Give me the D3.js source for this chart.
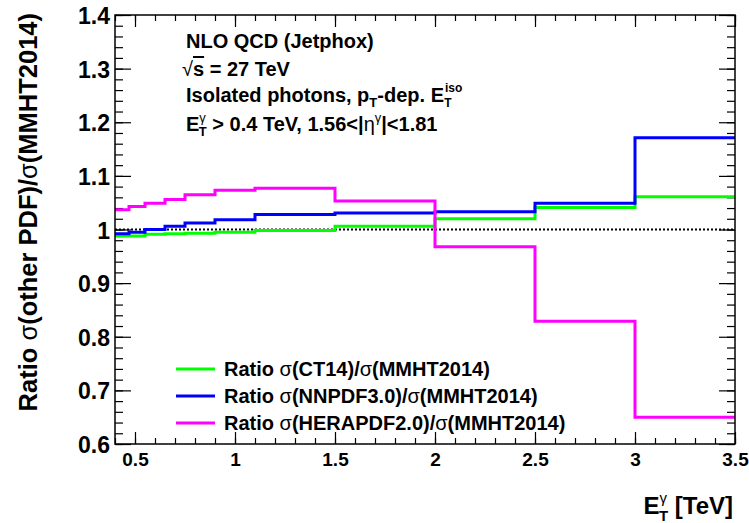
<!DOCTYPE html>
<html>
<head>
<meta charset="utf-8">
<script src="https://cdn.jsdelivr.net/npm/d3@7"></script>
<style>
  body { margin: 0; background: #fff; }
  text { font-family: "Liberation Sans", Arial, Helvetica, sans-serif; font-weight: bold; fill: #000; }
  .greek { font-weight: normal; }
</style>
</head>
<body>
<script>
// bin edges in E_T (TeV) and ratio values per bin
var edges = [0.4, 0.47, 0.55, 0.65, 0.75, 0.9, 1.1, 1.5, 2, 2.5, 3, 3.5];
var ct14  = [0.988, 0.988, 0.991, 0.992, 0.993, 0.995, 0.998, 1.006, 1.020, 1.041, 1.061];
var nnpdf = [0.992, 0.995, 1.000, 1.006, 1.012, 1.018, 1.028, 1.031, 1.033, 1.049, 1.171];
var hera  = [1.037, 1.043, 1.049, 1.056, 1.065, 1.073, 1.077, 1.053, 0.968, 0.829, 0.650];

var xTicks = [0.5, 1, 1.5, 2, 2.5, 3, 3.5];
var yTicks = [0.6, 0.7, 0.8, 0.9, 1, 1.1, 1.2, 1.3, 1.4];

var series = [
    {name: "CT14", values: ct14, color: "#00ff00"},
    {name: "NNPDF3.0", values: nnpdf, color: "#0000ff"},
    {name: "HERAPDF2.0", values: hera, color: "#ff00ff"}
];

var W = 749, H = 523;
var frame = {l: 115, t: 15, r: 735, b: 444};

var svg = d3.select("body").append("svg")
    .attr("width", W)
    .attr("height", H);

var x = d3.scaleLinear().domain([0.4, 3.5]).range([frame.l, frame.r]);
var y = d3.scaleLinear().domain([0.6, 1.4]).range([frame.b, frame.t]);

// minor ticks
var xMinor = d3.range(4, 36).map(function(d) { return d / 10; });
var yMinor = d3.range(30, 71).map(function(d) { return d / 50; });

function noLabels(g) { g.selectAll("text").remove(); g.select(".domain").remove(); }

// bottom
svg.append("g").attr("transform", "translate(0," + frame.b + ")")
    .call(d3.axisBottom(x).tickValues(xMinor).tickSize(-6))
    .call(noLabels);
svg.append("g").attr("transform", "translate(0," + frame.b + ")")
    .call(d3.axisBottom(x).tickValues(xTicks).tickSize(-12).tickFormat(d3.format("~g")))
    .call(function(g) {
        g.select(".domain").remove();
        g.selectAll("text").style("font-size", "19px").attr("dy", "0.71em").attr("y", 9);
    });
// top
svg.append("g").attr("transform", "translate(0," + frame.t + ")")
    .call(d3.axisTop(x).tickValues(xMinor).tickSize(-6))
    .call(noLabels);
svg.append("g").attr("transform", "translate(0," + frame.t + ")")
    .call(d3.axisTop(x).tickValues(xTicks).tickSize(-12))
    .call(noLabels);
// left
svg.append("g").attr("transform", "translate(" + frame.l + ",0)")
    .call(d3.axisLeft(y).tickValues(yMinor).tickSize(-8))
    .call(noLabels);
svg.append("g").attr("transform", "translate(" + frame.l + ",0)")
    .call(d3.axisLeft(y).tickValues(yTicks).tickSize(-16).tickFormat(d3.format("~g")))
    .call(function(g) {
        g.select(".domain").remove();
        g.selectAll("text").style("font-size", "23px").attr("x", -5).attr("dy", "0.37em");
    });
// right
svg.append("g").attr("transform", "translate(" + frame.r + ",0)")
    .call(d3.axisRight(y).tickValues(yMinor).tickSize(-8))
    .call(noLabels);
svg.append("g").attr("transform", "translate(" + frame.r + ",0)")
    .call(d3.axisRight(y).tickValues(yTicks).tickSize(-16))
    .call(noLabels);

svg.selectAll(".tick line").attr("stroke", "#000").attr("stroke-width", 1.2);

// reference line at 1
svg.append("line")
    .attr("x1", x(0.4)).attr("x2", x(3.5))
    .attr("y1", y(1)).attr("y2", y(1))
    .attr("stroke", "#000").attr("stroke-width", 2)
    .attr("stroke-dasharray", "2,2");

// histograms
var line = d3.line()
    .x(function(d) { return x(d[0]); })
    .y(function(d) { return y(d[1]); })
    .curve(d3.curveStepAfter);

series.forEach(function(s) {
    var pts = s.values.map(function(v, i) { return [edges[i], v]; });
    pts.push([edges[edges.length - 1], s.values[s.values.length - 1]]);
    svg.append("path")
        .datum(pts)
        .attr("d", line)
        .attr("fill", "none")
        .attr("stroke", s.color)
        .attr("stroke-width", 3);
});

// frame
svg.append("rect")
    .attr("x", frame.l).attr("y", frame.t)
    .attr("width", frame.r - frame.l).attr("height", frame.b - frame.t)
    .attr("fill", "none").attr("stroke", "#000").attr("stroke-width", 1.5);

// annotation
var ann = svg.append("g").style("font-size", "20px");
ann.append("text").attr("x", 186).attr("y", 48).text("NLO QCD (Jetphox)");

var t2 = ann.append("text").attr("x", 182).attr("y", 76);
t2.append("tspan").attr("class", "greek").text("\u221a");
t2.append("tspan").style("text-decoration", "overline").text("s");
t2.append("tspan").text(" = 27 TeV");

var t3 = ann.append("text").attr("x", 186).attr("y", 102);
t3.append("tspan").text("Isolated photons, p");
t3.append("tspan").attr("dy", 5).style("font-size", "13px").text("T");
t3.append("tspan").attr("dy", -5).text("-dep. E");
t3.append("tspan").attr("dy", -10).attr("dx", 1).style("font-size", "12px").text("iso");
t3.append("tspan").attr("dy", 15).attr("dx", -18).style("font-size", "12px").text("T");

var t4 = ann.append("text").attr("x", 186).attr("y", 131);
t4.append("tspan").text("E");
t4.append("tspan").attr("dy", -9).attr("class", "greek").style("font-size", "13px").text("\u03b3");
t4.append("tspan").attr("dy", 14).attr("dx", -7).style("font-size", "13px").text("T");
t4.append("tspan").attr("dy", -5).text(" > 0.4 TeV, 1.56<|");
t4.append("tspan").attr("class", "greek").text("\u03b7");
t4.append("tspan").attr("dy", -9).attr("class", "greek").style("font-size", "13px").text("\u03b3");
t4.append("tspan").attr("dy", 9).text("|<1.81");

// legend
var legRows = [369, 396, 423];
var leg = svg.append("g");
series.forEach(function(s, i) {
    leg.append("line")
        .attr("x1", 176).attr("x2", 215)
        .attr("y1", legRows[i]).attr("y2", legRows[i])
        .attr("stroke", s.color).attr("stroke-width", 3);
    var t = leg.append("text")
        .attr("x", 224).attr("y", legRows[i]).attr("dy", "0.36em")
        .style("font-size", "20px");
    t.append("tspan").text("Ratio ");
    t.append("tspan").attr("class", "greek").text("\u03c3");
    t.append("tspan").text("(" + s.name + ")/");
    t.append("tspan").attr("class", "greek").text("\u03c3");
    t.append("tspan").text("(MMHT2014)");
});

// axis titles
var yt = svg.append("text")
    .attr("transform", "translate(37,13) rotate(-90)")
    .attr("text-anchor", "end")
    .style("font-size", "25.5px");
yt.append("tspan").text("Ratio ");
yt.append("tspan").attr("class", "greek").text("\u03c3");
yt.append("tspan").text("(other PDF)/");
yt.append("tspan").attr("class", "greek").text("\u03c3");
yt.append("tspan").text("(MMHT2014)");

var xt = svg.append("text")
    .attr("x", 733).attr("y", 514)
    .attr("text-anchor", "end")
    .style("font-size", "24px");
xt.append("tspan").text("E");
xt.append("tspan").attr("dy", -11).attr("class", "greek").style("font-size", "15px").text("\u03b3");
xt.append("tspan").attr("dy", 18).attr("dx", -8).style("font-size", "15px").text("T");
xt.append("tspan").attr("dy", -7).text(" [TeV]");
</script>
</body>
</html>
